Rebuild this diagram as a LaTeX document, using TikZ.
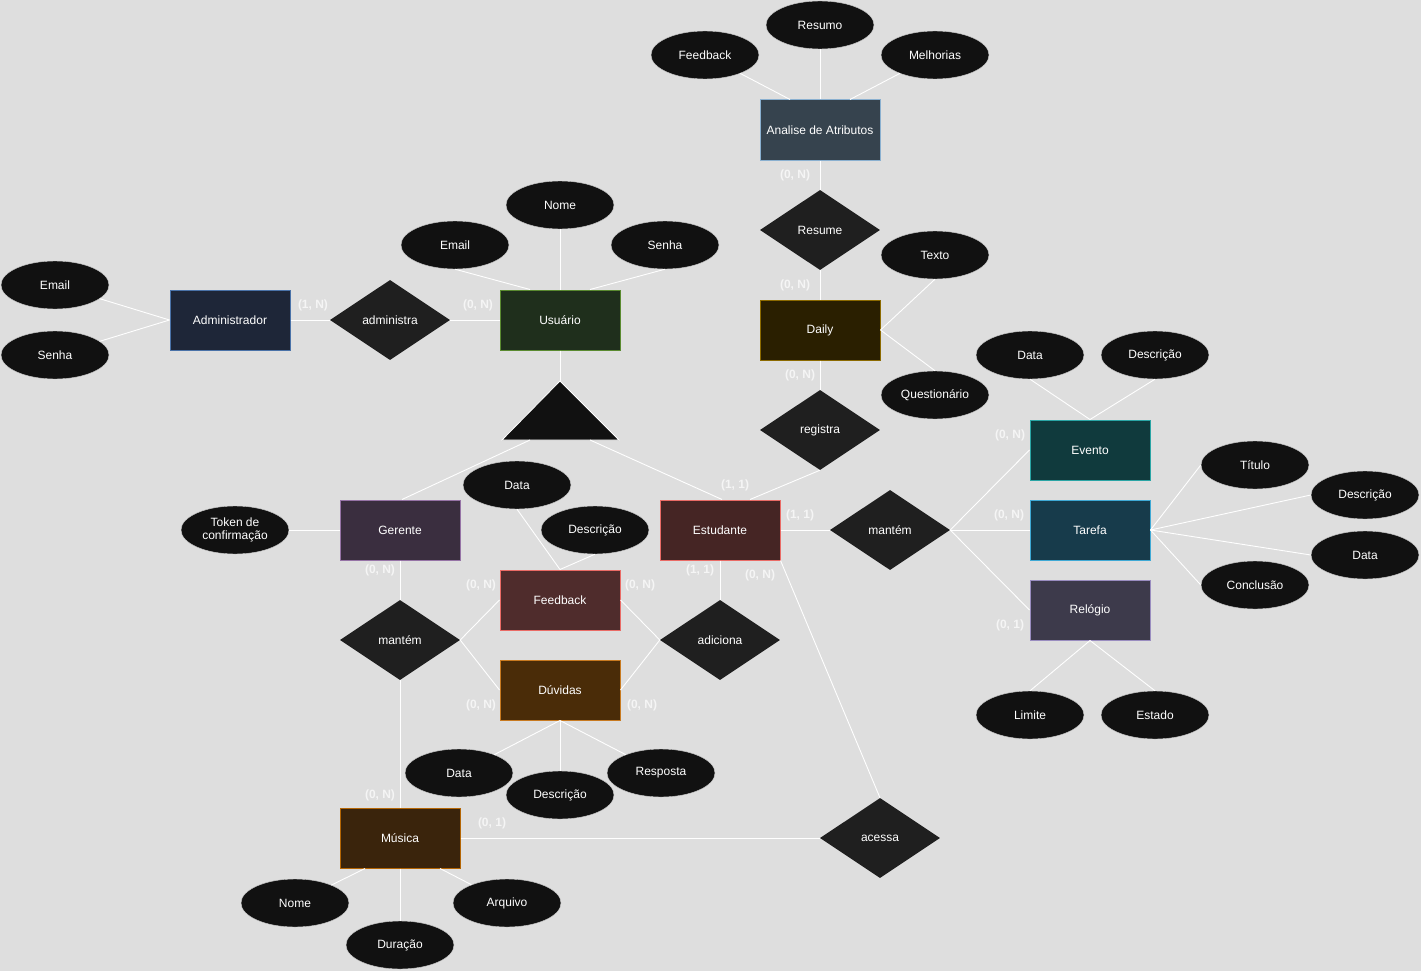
\documentclass[tikz,border=0pt]{standalone}
\usepackage{fontspec}
\setmainfont{Liberation Sans}
\usetikzlibrary{shapes.geometric}
\definecolor{bg}{HTML}{DEDEDE}
\definecolor{attrfill}{HTML}{111111}
\definecolor{relfill}{HTML}{1F1F1F}
\definecolor{admF}{HTML}{1E2638}\definecolor{admD}{HTML}{4A72A8}
\definecolor{usuF}{HTML}{1F2F1C}\definecolor{usuD}{HTML}{5A8A30}
\definecolor{anaF}{HTML}{36434E}\definecolor{anaD}{HTML}{8AB0D0}
\definecolor{dayF}{HTML}{2A1F00}\definecolor{dayD}{HTML}{8C6A00}
\definecolor{gerF}{HTML}{3A2E3F}\definecolor{gerD}{HTML}{9673A6}
\definecolor{estF}{HTML}{452524}\definecolor{estD}{HTML}{EA6B66}
\definecolor{fedF}{HTML}{4F2C2C}\definecolor{fedD}{HTML}{EA6B66}
\definecolor{duvF}{HTML}{4A2C08}\definecolor{duvD}{HTML}{C87A20}
\definecolor{musF}{HTML}{3A240C}\definecolor{musD}{HTML}{B46504}
\definecolor{evtF}{HTML}{103A3D}\definecolor{evtD}{HTML}{2AA5A5}
\definecolor{tarF}{HTML}{173B4B}\definecolor{tarD}{HTML}{3FA9D5}
\definecolor{relF}{HTML}{3D3A4B}\definecolor{relD}{HTML}{9A8DC0}
\begin{document}
\begin{tikzpicture}[x=1pt,y=-1pt,
  txt/.style={text=white, font=\fontsize{12}{14}\selectfont},
  ent/.style={txt, rectangle, minimum width=120pt, minimum height=60pt, inner sep=0pt, line width=1pt},
  attr/.style={txt, ellipse, fill=attrfill, draw=white!80!attrfill, line width=0.4pt, minimum width=108pt, minimum height=48pt, inner sep=0pt, align=center},
  rel/.style={txt, diamond, fill=relfill, minimum width=120pt, minimum height=80pt, inner sep=0pt},
  conn/.style={draw=white, line width=0.9pt},
  card/.style={text=white!96!black, font=\bfseries\fontsize{12}{14}\selectfont, inner sep=0pt},
]
\useasboundingbox (0,0) rectangle (1421,971);
\fill[bg] (0,0) rectangle (1421,971);

% ---------- entities ----------
\node[ent, fill=admF, draw=admD] (adm) at (230,320) {Administrador};
\node[ent, fill=usuF, draw=usuD] (usu) at (560,320) {Usuário};
\node[ent, fill=anaF, draw=anaD] (ana) at (820,130) {Analise de Atributos};
\node[ent, fill=dayF, draw=dayD] (day) at (820,330) {Daily};
\node[ent, fill=gerF, draw=gerD] (ger) at (400,530) {Gerente};
\node[ent, fill=estF, draw=estD] (est) at (720,530) {Estudante};
\node[ent, fill=fedF, draw=fedD] (fed) at (560,600) {Feedback};
\node[ent, fill=duvF, draw=duvD] (duv) at (560,690) {Dúvidas};
\node[ent, fill=musF, draw=musD] (mus) at (400,838) {Música};
\node[ent, fill=evtF, draw=evtD] (evt) at (1090,450) {Evento};
\node[ent, fill=tarF, draw=tarD] (tar) at (1090,530) {Tarefa};
\node[ent, fill=relF, draw=relD] (rlg) at (1090,610) {Relógio};

% ---------- relationships ----------
\node[rel] (radm) at (390,320) {administra};
\node[rel] (rres) at (820,230) {Resume};
\node[rel] (rreg) at (820,430) {registra};
\node[rel] (rmanR) at (890,530) {mantém};
\node[rel] (rmanL) at (400,640) {mantém};
\node[rel] (radi) at (720,640) {adiciona};
\node[rel] (race) at (880,838) {acessa};

% ---------- specialization triangle ----------
\coordinate (triA) at (560,381);
\coordinate (triL) at (502,440);
\coordinate (triR) at (619,440);
\coordinate (triGL) at (530,440);
\coordinate (triGR) at (590,440);
\filldraw[fill=attrfill, draw=white, line width=0.8pt] (triA) -- (triL) -- (triR) -- cycle;

% ---------- attributes ----------
\node[attr] (aEmail) at (55,285) {Email};
\node[attr] (aSenha) at (55,355) {Senha};
\node[attr] (uEmail) at (455,245) {Email};
\node[attr] (uNome) at (560,205) {Nome};
\node[attr] (uSenha) at (665,245) {Senha};
\node[attr] (nFeed) at (705,55) {Feedback};
\node[attr] (nRes) at (820,25) {Resumo};
\node[attr] (nMel) at (935,55) {Melhorias};
\node[attr] (dTex) at (935,255) {Texto};
\node[attr] (dQue) at (935,395) {Questionário};
\node[attr] (eData) at (1030,355) {Data};
\node[attr] (eDesc) at (1155,355) {Descrição};
\node[attr] (tTit) at (1255,465) {Título};
\node[attr] (tDesc) at (1365,495) {Descrição};
\node[attr] (tData) at (1365,555) {Data};
\node[attr] (tConc) at (1255,585) {Conclusão};
\node[attr] (rLim) at (1030,715) {Limite};
\node[attr] (rEst) at (1155,715) {Estado};
\node[attr, font=\fontsize{12}{13}\selectfont] (gTok) at (235,530) {Token de\\confirmação};
\node[attr] (fData) at (517,485) {Data};
\node[attr] (fDesc) at (595,530) {Descrição};
\node[attr] (vData) at (459,773) {Data};
\node[attr] (vDesc) at (560,795) {Descrição};
\node[attr] (vResp) at (661,773) {Resposta};
\node[attr] (mNome) at (295,903) {Nome};
\node[attr] (mDur) at (400,945) {Duração};
\node[attr] (mArq) at (507,903) {Arquivo};

% ---------- connectors ----------
\begin{scope}[conn]
\draw (aEmail) -- (adm.west);
\draw (aSenha) -- (adm.west);
\draw (adm.east) -- (radm.west);
\draw (radm.east) -- (usu.west);
\draw (uEmail.south) -- ([xshift=-30pt]usu.north);
\draw (uNome.south) -- (usu.north);
\draw (uSenha.south) -- ([xshift=30pt]usu.north);
\draw (usu.south) -- (triA);
\draw (triGL) -- ([xshift=2pt]ger.north);
\draw (triGR) -- ([xshift=2pt]est.north);
\draw (gTok.east) -- (ger.west);
\draw (ger.south) -- (rmanL.north);
\draw (rmanL.east) -- (fed.west);
\draw (rmanL.east) -- (duv.west);
\draw (rmanL.south) -- (mus.north);
\draw (fData.south) -- (fed.north);
\draw (fDesc.south) -- (fed.north);
\draw (est.south) -- (radi.north);
\draw (radi.west) -- (fed.east);
\draw (radi.west) -- (duv.east);
\draw (duv.south) -- (vData);
\draw (duv.south) -- (vDesc.north);
\draw (duv.south) -- (vResp);
\draw (est.east) -- (rmanR.west);
\draw ([xshift=30pt]est.north) -- (rreg.south);
\draw (est.south east) -- (race.north);
\draw (mus.east) -- (race.west);
\draw (mNome) -- ([xshift=-35pt]mus.south);
\draw (mus.south) -- (mDur.north);
\draw (mArq) -- ([xshift=40pt]mus.south);
\draw (rmanR.east) -- (evt.west);
\draw (rmanR.east) -- (tar.west);
\draw (rmanR.east) -- (rlg.west);
\draw (evt.north) -- (eData.south);
\draw (evt.north) -- (eDesc.south);
\draw (tar.east) -- (tTit.west);
\draw (tar.east) -- (tDesc.west);
\draw (tar.east) -- (tData.west);
\draw (tar.east) -- (tConc.west);
\draw (rlg.south) -- (rLim.north);
\draw (rlg.south) -- (rEst.north);
\draw (day.north) -- (rres.south);
\draw (rres.north) -- (ana.south);
\draw (nFeed) -- ([xshift=-30pt]ana.north);
\draw (nRes.south) -- (ana.north);
\draw (nMel) -- ([xshift=30pt]ana.north);
\draw (day.east) -- (dTex.south);
\draw (day.east) -- (dQue.north);
\draw (day.south) -- (rreg.north);
\end{scope}

% ---------- cardinalities ----------
\node[card] (c1) at (313,305) {(1, N)};
\node[card] (c2) at (478,305) {(0, N)};
\node[card] (c3) at (795,175) {(0, N)};
\node[card] (c4) at (795,285) {(0, N)};
\node[card] (c5) at (800,375) {(0, N)};
\node[card] (c6) at (735,485) {(1, 1)};
\node[card] (c7) at (800,515) {(1, 1)};
\node[card] (c8) at (1010,435) {(0, N)};
\node[card] (c9) at (1009,515) {(0, N)};
\node[card] (c10) at (1010,625) {(0, 1)};
\node[card] (c11) at (380,570) {(0, N)};
\node[card] (c12) at (481,585) {(0, N)};
\node[card] (c13) at (640,585) {(0, N)};
\node[card] (c14) at (700,570) {(1, 1)};
\node[card] (c15) at (760,575) {(0, N)};
\node[card] (c16) at (481,705) {(0, N)};
\node[card] (c17) at (642,705) {(0, N)};
\node[card] (c18) at (380,795) {(0, N)};
\node[card] (c19) at (492,823) {(0, 1)};
\end{tikzpicture}
\end{document}
